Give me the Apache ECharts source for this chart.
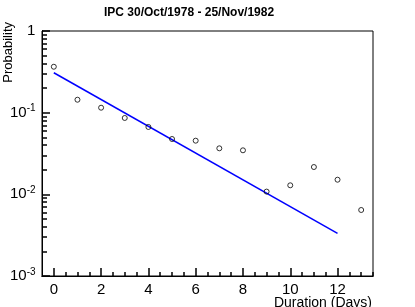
<!DOCTYPE html>
<html><head><meta charset="utf-8">
<script src="https://cdn.jsdelivr.net/npm/echarts@6/dist/echarts.min.js"></script>
<style>html,body{margin:0;padding:0;background:#fff}#c{width:415px;height:307px}</style>
</head><body><div id="c"></div>
<script>
const durations = [0, 1, 2, 3, 4, 5, 6, 7, 8, 9, 10, 11, 12, 13];
const probabilities = [0.365, 0.144, 0.115, 0.0861, 0.0668, 0.0476, 0.0454, 0.0366, 0.0346, 0.0108, 0.0129, 0.0216, 0.0151, 0.00643];
const fitX = [0, 12];
const fitY = [0.308, 0.00333];
const xMajorTicks = [0, 2, 4, 6, 8, 10, 12];
const xMinorTicks = [0.5, 1, 1.5, 2.5, 3, 3.5, 4.5, 5, 5.5, 6.5, 7, 7.5, 8.5, 9, 9.5, 10.5, 11, 11.5, 12.5, 13, 13.5];
const yMajorTicks = [0.001, 0.01, 0.1, 1];
const yMinorTicks = [0.002, 0.003, 0.004, 0.005, 0.006, 0.007, 0.008, 0.009,
  0.02, 0.03, 0.04, 0.05, 0.06, 0.07, 0.08, 0.09,
  0.2, 0.3, 0.4, 0.5, 0.6, 0.7, 0.8, 0.9];
const titleText = 'IPC 30/Oct/1978 - 25/Nov/1982';
const xTitle = 'Duration (Days)';
const yTitle = 'Probability';

const FONT = 'Liberation Sans, Arial, Helvetica, sans-serif';
const chart = echarts.init(document.getElementById('c'), null, {renderer: 'canvas'});
function baseX() {
  return {type: 'value', min: -0.5, max: 13.5, position: 'bottom', splitLine: {show: false},
    axisLine: {show: true, onZero: false, lineStyle: {color: '#000'}}};
}
function baseY() {
  return {type: 'log', min: 0.001, max: 1, position: 'left', splitLine: {show: false},
    axisLine: {show: true, onZero: false, lineStyle: {color: '#000'}}};
}
function tick(len, vals) {
  return {show: true, inside: true, length: len, customValues: vals, lineStyle: {color: '#000', width: 1.5}};
}
chart.setOption({
  animation: false,
  title: {text: titleText, left: 104, top: 7, padding: 0,
    textStyle: {fontFamily: FONT, fontSize: 12, fontWeight: 'bold', color: '#000'}},
  grid: {left: 42, right: 42, top: 31, bottom: 31, show: true, borderColor: '#000', borderWidth: 1},
  xAxis: [
    Object.assign(baseX(), {
      axisTick: tick(8, xMajorTicks),
      axisLabel: {show: true, customValues: xMajorTicks, margin: 6, color: '#000', fontFamily: FONT, fontSize: 15}
    }),
    Object.assign(baseX(), {
      axisTick: tick(4, xMinorTicks),
      axisLabel: {show: false}
    })
  ],
  yAxis: [
    Object.assign(baseY(), {
      axisTick: tick(8, yMajorTicks),
      axisLabel: {show: true, customValues: yMajorTicks, align: 'left', margin: 32, color: '#000',
        formatter: function (v) {
          const e = Math.round(Math.log10(v));
          if (e === 0) return '{one|1}';
          return '{b|10}{s|' + e + '}';
        },
        rich: {
          one: {fontFamily: FONT, fontSize: 15, color: '#000', padding: [0, 0, 0, 17]},
          b: {fontFamily: FONT, fontSize: 15, color: '#000', lineHeight: 18},
          s: {fontFamily: FONT, fontSize: 10, color: '#000', lineHeight: 10, verticalAlign: 'top'}
        }
      }
    }),
    Object.assign(baseY(), {
      axisTick: tick(5, yMinorTicks),
      axisLabel: {show: false}
    })
  ],
  graphic: [
    {type: 'text', x: 8.5, y: 22, rotation: Math.PI / 2,
      style: {text: yTitle, align: 'right', verticalAlign: 'middle', fontFamily: FONT, fontSize: 13, fill: '#000'}},
    {type: 'text', x: 372, y: 296,
      style: {text: xTitle, align: 'right', verticalAlign: 'top', fontFamily: FONT, fontSize: 14, fill: '#000'}}
  ],
  series: [
    {type: 'line', xAxisIndex: 1, yAxisIndex: 1, data: fitX.map((x, i) => [x, fitY[i]]),
      showSymbol: false, lineStyle: {color: '#0000ff', width: 1.5}, z: 2},
    {type: 'scatter', xAxisIndex: 0, yAxisIndex: 0, data: durations.map((x, i) => [x, probabilities[i]]),
      symbol: 'circle', symbolSize: 5, itemStyle: {color: 'rgba(0,0,0,0)', borderColor: '#000', borderWidth: 1}, z: 3}
  ]
});
</script>
</body></html>
